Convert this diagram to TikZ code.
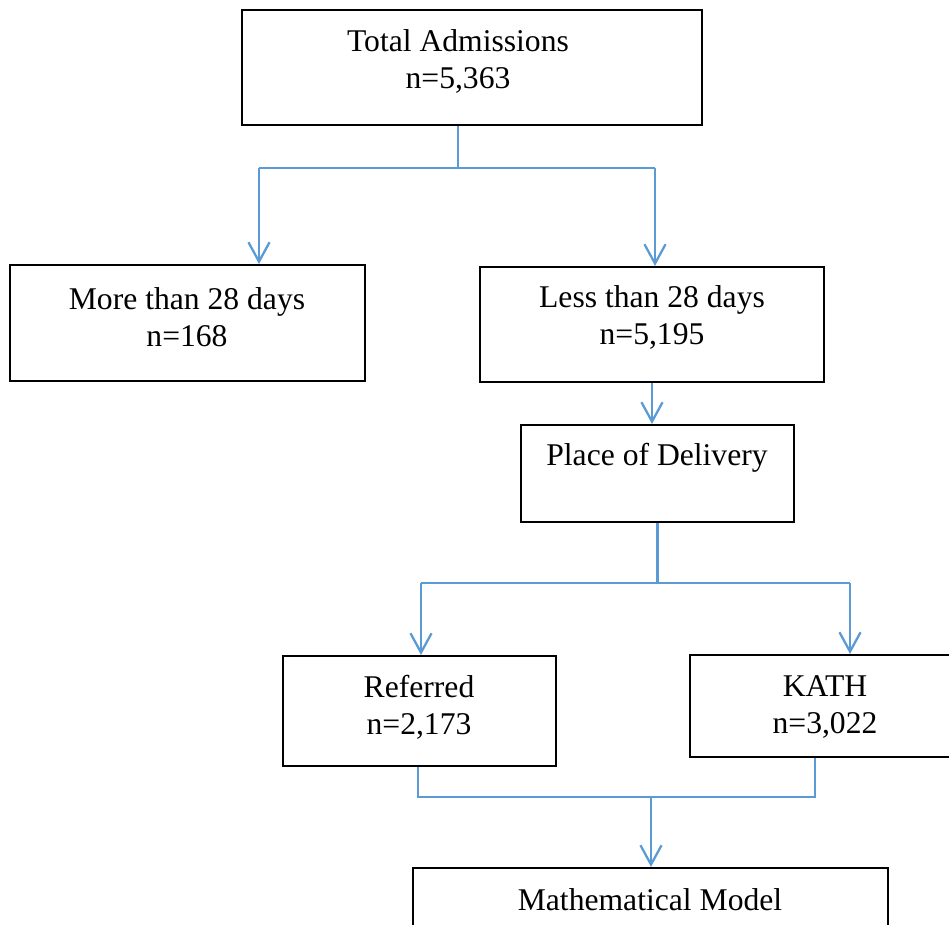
\documentclass[tikz,border=0pt]{standalone}
\usepackage{fontspec}
\setmainfont{Liberation Serif}
\usetikzlibrary{positioning,arrows.meta}
\definecolor{linkblue}{HTML}{5B9BD5}

\tikzset{
  box/.style={draw=black, line width=1.2pt, rectangle, inner sep=0pt},
  txt/.style={align=center, inner sep=0pt, font=\fontsize{18}{21}\selectfont},
  link/.style={draw=linkblue, line width=1.3pt},
  arr/.style={link, -{Straight Barb[length=11pt, width=12pt, line width=1.3pt]}}
}

\begin{document}
\begin{tikzpicture}[x=0.02cm, y=-0.02cm]
    \useasboundingbox (0,0) rectangle (949,924);

    % Boxes
    \node[box, minimum width=9.2cm, minimum height=2.3cm] (total) at (472,67.5) {};
    \node[txt] (total-t) at (458,61.5) {Total Admissions\\n=5,363};

    \node[box, minimum width=7.1cm, minimum height=2.32cm] (more) at (187.5,323) {};
    \node[txt] (more-t) at (187,317) {More than 28 days\\n=168};

    \node[box, minimum width=6.88cm, minimum height=2.3cm] (less) at (652,324.5) {};
    \node[txt] (less-t) at (652,317.5) {Less than 28 days\\n=5,195};

    \node[box, minimum width=5.46cm, minimum height=1.94cm] (place) at (657.5,473.5) {};
    \node[txt] (place-t) at (657,458) {Place of Delivery};

    \node[box, minimum width=5.46cm, minimum height=2.2cm] (referred) at (419.5,711) {};
    \node[txt] (referred-t) at (419,707) {Referred\\n=2,173};

    \node[box, minimum width=5.44cm, minimum height=2.04cm] (kath) at (826,706) {};
    \node[txt] (kath-t) at (825,707) {KATH\\n=3,022};

    \node[box, minimum width=9.5cm, minimum height=2.2cm] (math) at (650.5,923) {};
    \node[txt] (math-t) at (650,900) {Mathematical Model};

    % Split below total admissions
    \coordinate (j1) at (458,168);
    \coordinate (j1l) at (259,168);
    \coordinate (j1r) at (655,168);
    \draw[link] (j1 |- total.south) -- (j1);
    \draw[link] (j1l) -- (j1r);
    \draw[arr] (j1l) -- (j1l |- more.north);
    \draw[arr] (j1r) -- (j1r |- less.north);

    % Less than 28 days to place of delivery
    \draw[arr] (less.south) -- (less.south |- place.north);

    % Split below place of delivery
    \coordinate (j2) at (657.5,583);
    \coordinate (j2l) at (421,583);
    \coordinate (j2r) at (850,583);
    \draw[link] (place.south) -- (j2);
    \draw[link] (j2l) -- (j2r);
    \draw[arr] (j2l) -- (j2l |- referred.north);
    \draw[arr] (j2r) -- (j2r |- kath.north);

    % Join into the model
    \coordinate (j3l) at (418,797);
    \coordinate (j3r) at (815,797);
    \coordinate (j3) at (651,797);
    \draw[link] (j3l |- referred.south) -- (j3l) -- (j3r) -- (j3r |- kath.south);
    \draw[arr] (j3) -- (j3 |- math.north);
\end{tikzpicture}
\end{document}
